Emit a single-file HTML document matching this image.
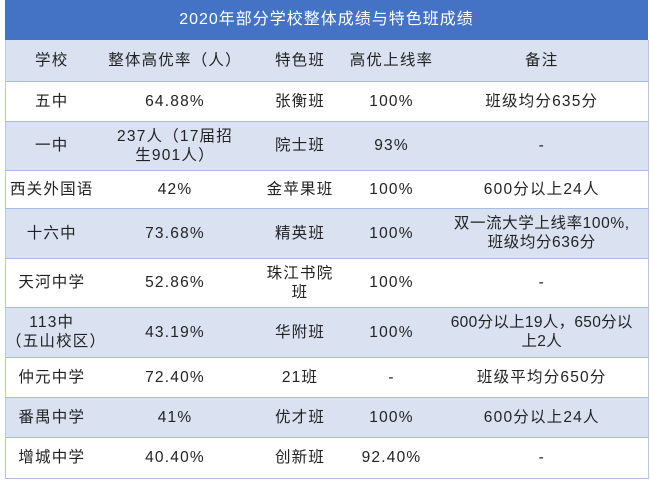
<!DOCTYPE html>
<html><head><meta charset="utf-8"><style>
html,body{margin:0;padding:0;width:650px;height:480px;background:#fff;overflow:hidden}
body{font-family:"Liberation Sans","Noto Sans CJK SC",sans-serif;color:#222;font-size:15.5px;letter-spacing:1.2px}
#t{position:absolute;left:5px;top:0;width:643px;height:40px;background:#4472c4;color:#fff;text-align:center;line-height:40px;font-size:16px;letter-spacing:1px}
table{position:absolute;left:5px;top:40px;width:643px;border-collapse:collapse;table-layout:fixed;border-left:1px solid #b8c8e8;border-right:1px solid #b8c8e8}
td{text-align:center;vertical-align:middle;padding:0;line-height:19px;border-top:1.5px solid #a8bde6;white-space:nowrap}
tr.b td{background:#dae2f2}
</style></head><body>
<div id="t">2020年部分学校整体成绩与特色班成绩</div>
<table>
<colgroup><col style="width:92px"><col style="width:155px"><col style="width:95px"><col style="width:88px"><col style="width:213px"></colgroup>
<tr class="b" style="height:41px"><td style="border-top:none">学校</td><td style="border-top:none">整体高优率（人）</td><td style="border-top:none">特色班</td><td style="border-top:none">高优上线率</td><td style="border-top:none">备注</td></tr>
<tr style="height:40px"><td>五中</td><td>64.88%</td><td>张衡班</td><td>100%</td><td>班级均分635分</td></tr>
<tr class="b" style="height:49px"><td>一中</td><td>237人（17届招<br>生901人）</td><td>院士班</td><td>93%</td><td>-</td></tr>
<tr style="height:38px"><td>西关外国语</td><td>42%</td><td>金苹果班</td><td>100%</td><td>600分以上24人</td></tr>
<tr class="b" style="height:50px"><td>十六中</td><td>73.68%</td><td>精英班</td><td>100%</td><td style="letter-spacing:0.6px">双一流大学上线率100%,<br>班级均分636分</td></tr>
<tr style="height:49px"><td>天河中学</td><td>52.86%</td><td>珠江书院<br>班</td><td>100%</td><td>-</td></tr>
<tr class="b" style="height:50px"><td>113中<br>（五山校区）</td><td>43.19%</td><td>华附班</td><td>100%</td><td style="letter-spacing:0.3px">600分以上19人，650分以<br>上2人</td></tr>
<tr style="height:40px"><td>仲元中学</td><td>72.40%</td><td>21班</td><td>-</td><td>班级平均分650分</td></tr>
<tr class="b" style="height:40px"><td>番禺中学</td><td>41%</td><td>优才班</td><td>100%</td><td>600分以上24人</td></tr>
<tr style="height:41px"><td style="border-bottom:1.5px solid #a8bde6">增城中学</td><td style="border-bottom:1.5px solid #a8bde6">40.40%</td><td style="border-bottom:1.5px solid #a8bde6">创新班</td><td style="border-bottom:1.5px solid #a8bde6">92.40%</td><td style="border-bottom:1.5px solid #a8bde6">-</td></tr>
</table>
</body></html>
